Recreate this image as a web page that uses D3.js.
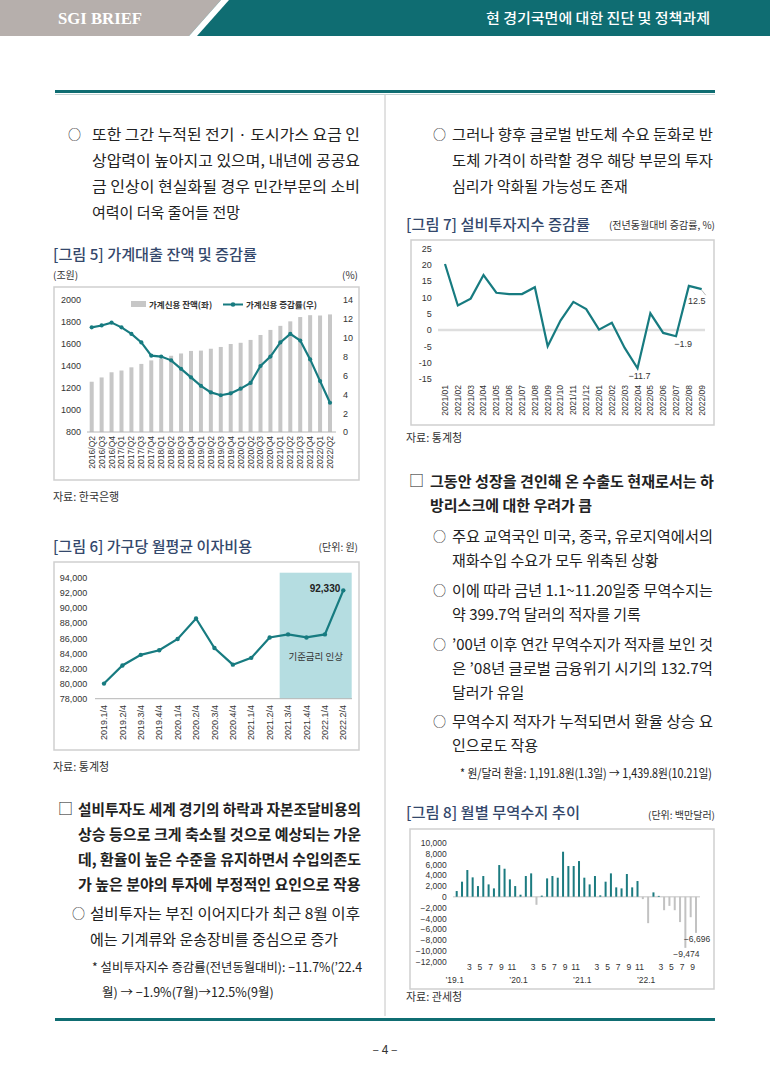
<!DOCTYPE html>
<html>
<head>
<meta charset="utf-8">
<script src="https://cdn.jsdelivr.net/npm/d3@7"></script>
<style>
  body { margin: 0; background: #fff; }
  text { font-family: "Noto Sans CJK KR", "Noto Sans", sans-serif; }
  .num { font-family: "Liberation Sans", "Noto Sans", sans-serif; }
</style>
</head>
<body>
<svg id="page"></svg>
<script>
// [그림 5] 가계신용
const creditQuarters = ["2016/Q2","2016/Q3","2016/Q4","2017/Q1","2017/Q2","2017/Q3","2017/Q4",
  "2018/Q1","2018/Q2","2018/Q3","2018/Q4","2019/Q1","2019/Q2","2019/Q3","2019/Q4",
  "2020/Q1","2020/Q2","2020/Q3","2020/Q4","2021/Q1","2021/Q2","2021/Q3","2021/Q4",
  "2022/Q1","2022/Q2"];
const creditBalance = [1257, 1296, 1343, 1359, 1388, 1419, 1451, 1468, 1493, 1514, 1537, 1540,
  1557, 1573, 1600, 1611, 1637, 1682, 1728, 1765, 1806, 1845, 1862, 1859, 1869];
const creditGrowth = [11.1, 11.3, 11.6, 11.1, 10.4, 9.5, 8.1, 8.0, 7.6, 6.7, 5.8, 4.9, 4.2, 3.9,
  4.1, 4.6, 5.2, 7.0, 8.0, 9.5, 10.4, 9.7, 7.7, 5.4, 3.1];
const creditLeftTicks = [800, 1000, 1200, 1400, 1600, 1800, 2000];
const creditRightTicks = [0, 2, 4, 6, 8, 10, 12, 14];

// [그림 6] 가구당 월평균 이자비용
const interestQuarters = ["2019.1/4","2019.2/4","2019.3/4","2019.4/4","2020.1/4","2020.2/4",
  "2020.3/4","2020.4/4","2021.1/4","2021.2/4","2021.3/4","2021.4/4","2022.1/4","2022.2/4"];
const interestCost = [80000, 82400, 83800, 84400, 85900, 88600, 84700, 82500, 83400, 86100,
  86500, 86100, 86500, 92330];
const interestTicks = [78000, 80000, 82000, 84000, 86000, 88000, 90000, 92000, 94000];
const rateHikeQuarters = ["2021.3/4", "2022.2/4"];

// [그림 7] 설비투자지수 증감률
const investMonths = ["2021/01","2021/02","2021/03","2021/04","2021/05","2021/06","2021/07",
  "2021/08","2021/09","2021/10","2021/11","2021/12","2022/01","2022/02","2022/03","2022/04",
  "2022/05","2022/06","2022/07","2022/08","2022/09"];
const investGrowth = [20.2, 7.5, 9.6, 16.8, 11.4, 11.0, 11.0, 13.1, -5.0, 2.9, 8.6, 6.4, 0.1,
  2.2, -5.5, -11.7, 5.1, -0.9, -1.9, 13.5, 12.5];
const investTicks = [-15, -10, -5, 0, 5, 10, 15, 20, 25];
const investNotes = [["2022/04", "−11.7"], ["2022/07", "−1.9"], ["2022/09", "12.5"]];

// [그림 8] 월별 무역수지
const tradeMonths = [
  "2019.1","2019.2","2019.3","2019.4","2019.5","2019.6","2019.7","2019.8","2019.9","2019.10","2019.11","2019.12",
  "2020.1","2020.2","2020.3","2020.4","2020.5","2020.6","2020.7","2020.8","2020.9","2020.10","2020.11","2020.12",
  "2021.1","2021.2","2021.3","2021.4","2021.5","2021.6","2021.7","2021.8","2021.9","2021.10","2021.11","2021.12",
  "2022.1","2022.2","2022.3","2022.4","2022.5","2022.6","2022.7","2022.8","2022.9","2022.10"];
const tradeBalance = [1050, 2780, 4940, 3580, 1970, 3830, 2280, 1540, 5860, 5180, 3210, 1970,
  370, 3830, 4320, -1500, 200, 3390, 3830, 3520, 8330, 5680, 5680, 6600,
  3520, 2280, 3830, 250, 2780, 4320, 1730, 1540, 4200, 1730, 2900, -450,
  -4900, 800, 150, -2500, -1700, -2500, -4700, -9474, -3800, -6696];
const tradeTicks = [-12000, -10000, -8000, -6000, -4000, -2000, 0, 2000, 4000, 6000, 8000, 10000];
const tradeNotes = [["2022.8", "−9,474"], ["2022.10", "−6,696"]];

const TEAL = "#0f6d72", LINE = "#177b80", TITLE = "#34486c", INK = "#222";

const svg = d3.select("#page").attr("width", 770).attr("height", 1089);

function txt(x, y, s, o = {}) {
  const t = svg.append("text")
    .attr("x", x).attr("y", y).text(s)
    .attr("font-size", o.size || 15)
    .attr("font-weight", o.weight || 400)
    .attr("fill", o.fill || INK)
    .attr("text-anchor", o.anchor || "start");
  if (o.cls) t.attr("class", o.cls);
  if (o.len) t.attr("textLength", o.len).attr("lengthAdjust", "spacingAndGlyphs");
  return t;
}

function para(bullet, bx, x, right, y, lh, lines, size, weight) {
  if (bullet) txt(bx, y - 1, bullet, { size: bullet === "○" ? 13 : 15 });
  lines.forEach((s, i) => {
    txt(x, y + i * lh, s, {
      size: size, weight: weight,
      len: i < lines.length - 1 ? right - x : null
    });
  });
}

function box(x, y, w, h) {
  svg.append("rect").attr("x", x).attr("y", y).attr("width", w).attr("height", h)
    .attr("fill", "none").attr("stroke", "#cfcfcf").attr("stroke-width", 1.5);
}

function yAxis(scale, ticks, x, side, fmt) {
  const ax = (side === "left" ? d3.axisLeft(scale) : d3.axisRight(scale))
    .tickValues(ticks).tickSize(0).tickPadding(0).tickFormat(fmt || (d => d));
  const g = svg.append("g").attr("transform", `translate(${x},0)`).call(ax);
  g.select(".domain").remove();
  g.selectAll("text").attr("class", "num").attr("font-size", 9).attr("fill", "#333");
  return g;
}

function rotatedLabels(scale, cats, top, size) {
  svg.append("g").selectAll("text").data(cats).join("text")
    .attr("class", "num")
    .attr("transform", d => `translate(${scale(d)},${top}) rotate(-90)`)
    .attr("text-anchor", "end").attr("dy", "0.35em")
    .attr("font-size", size).attr("fill", "#333")
    .text(d => d);
}

// ---------- header ----------
svg.append("rect").attr("width", 770).attr("height", 36).attr("fill", TEAL);
svg.append("polygon").attr("points", "0,0 221,0 189,36 0,36").attr("fill", "#b6afac");
svg.append("polygon").attr("points", "221,0 229,0 197,36 189,36").attr("fill", "#fff");
txt(58, 24, "SGI BRIEF", { size: 17, weight: 700, fill: "#fff", len: 84 })
  .style("font-family", "'Liberation Serif', serif");
txt(710, 23, "현 경기국면에 대한 진단 및 정책과제", { size: 13.5, weight: 500, fill: "#fff", anchor: "end", len: 224 });

svg.append("rect").attr("x", 55).attr("y", 90).attr("width", 660).attr("height", 3).attr("fill", TEAL);
svg.append("line").attr("x1", 55).attr("x2", 715).attr("y1", 94.5).attr("y2", 94.5)
  .attr("stroke", "#c5d3d3").attr("stroke-width", 1);
svg.append("line").attr("x1", 385).attr("x2", 385).attr("y1", 95).attr("y2", 1016)
  .attr("stroke", "#c4c4c4").attr("stroke-width", 1);
svg.append("rect").attr("x", 55).attr("y", 1018).attr("width", 660).attr("height", 3).attr("fill", TEAL);
txt(385, 1054, "– 4 –", { size: 12, anchor: "middle", fill: "#333" });

// ---------- body text ----------
para("○", 68, 92, 360, 140, 26, [
  "또한 그간 누적된 전기 · 도시가스 요금 인",
  "상압력이 높아지고 있으며, 내년에 공공요",
  "금 인상이 현실화될 경우 민간부문의 소비",
  "여력이 더욱 줄어들 전망"], 15, 400);

para("□", 58, 78, 361, 815, 25, [
  "설비투자도 세계 경기의 하락과 자본조달비용의",
  "상승 등으로 크게 축소될 것으로 예상되는 가운",
  "데, 환율이 높은 수준을 유지하면서 수입의존도",
  "가 높은 분야의 투자에 부정적인 요인으로 작용"], 15, 700);

para("○", 72, 90, 360, 919, 26, [
  "설비투자는 부진 이어지다가 최근 8월 이후",
  "에는 기계류와 운송장비를 중심으로 증가"], 15, 400);

txt(92, 972, "* 설비투자지수 증감률(전년동월대비): −11.7%(’22.4", { size: 12.5, len: 270 });
txt(102, 997, "월) → −1.9%(7월)→12.5%(9월)", { size: 12.5 });

para("○", 433, 452, 713, 140, 26, [
  "그러나 향후 글로벌 반도체 수요 둔화로 반",
  "도체 가격이 하락할 경우 해당 부문의 투자",
  "심리가 악화될 가능성도 존재"], 15, 400);

para("□", 409, 430, 714, 487, 24, [
  "그동안 성장을 견인해 온 수출도 현재로서는 하",
  "방리스크에 대한 우려가 큼"], 15, 700);

para("○", 433, 452, 713, 542, 24, [
  "주요 교역국인 미국, 중국, 유로지역에서의",
  "재화수입 수요가 모두 위축된 상황"], 15, 400);

para("○", 433, 452, 713, 596, 24, [
  "이에 따라 금년 1.1~11.20일중 무역수지는",
  "약 399.7억 달러의 적자를 기록"], 15, 400);

para("○", 433, 452, 713, 650, 24, [
  "’00년 이후 연간 무역수지가 적자를 보인 것",
  "은 ’08년 글로벌 금융위기 시기의 132.7억",
  "달러가 유일"], 15, 400);

para("○", 433, 452, 713, 727, 24, [
  "무역수지 적자가 누적되면서 환율 상승 요",
  "인으로도 작용"], 15, 400);

txt(460, 778, "* 원/달러 환율: 1,191.8원(1.3일) → 1,439.8원(10.21일)", { size: 12.5, len: 252 });

// ---------- [그림 5] ----------
function drawCredit() {
  txt(53, 260, "[그림 5] 가계대출 잔액 및 증감률", { size: 15, weight: 500, fill: TITLE, len: 204 });
  txt(53, 279, "(조원)", { size: 10, fill: "#333" });
  txt(358, 279, "(%)", { size: 10, fill: "#333", anchor: "end" });
  box(54, 287, 305, 193);

  const x = d3.scalePoint().domain(creditQuarters).range([91.7, 330]);
  const yL = d3.scaleLinear().domain([800, 2000]).range([432, 300]);
  const yR = d3.scaleLinear().domain([0, 14]).range([432, 300]);

  yAxis(yL, creditLeftTicks, 81, "left");
  yAxis(yR, creditRightTicks, 343, "right");

  svg.append("g").selectAll("rect").data(creditBalance).join("rect")
    .attr("x", (d, i) => x(creditQuarters[i]) - 2)
    .attr("width", 4)
    .attr("y", d => yL(d))
    .attr("height", d => yL(800) - yL(d))
    .attr("fill", "#c7c7c7");

  svg.append("line").attr("x1", 87).attr("x2", 336).attr("y1", yL(800)).attr("y2", yL(800))
    .attr("stroke", "#b5b5b5").attr("stroke-width", 1);

  const line = d3.line().x((d, i) => x(creditQuarters[i])).y(d => yR(d));
  svg.append("path").datum(creditGrowth).attr("d", line)
    .attr("fill", "none").attr("stroke", LINE).attr("stroke-width", 2.2);
  svg.append("g").selectAll("circle").data(creditGrowth).join("circle")
    .attr("cx", (d, i) => x(creditQuarters[i])).attr("cy", d => yR(d)).attr("r", 2.1)
    .attr("fill", LINE);

  rotatedLabels(x, creditQuarters, 436, 8.5);

  // legend
  svg.append("rect").attr("x", 131).attr("y", 301).attr("width", 15).attr("height", 6).attr("fill", "#c7c7c7");
  txt(149, 308, "가계신용 잔액(좌)", { size: 8.5, weight: 700, fill: "#333" });
  svg.append("line").attr("x1", 223).attr("x2", 243).attr("y1", 304.5).attr("y2", 304.5)
    .attr("stroke", LINE).attr("stroke-width", 2);
  svg.append("circle").attr("cx", 233).attr("cy", 304.5).attr("r", 2.3).attr("fill", LINE);
  txt(246, 308, "가계신용 증감률(우)", { size: 8.5, weight: 700, fill: "#333" });

  txt(53, 501, "자료: 한국은행", { size: 11, fill: "#333" });
}

// ---------- [그림 6] ----------
function drawInterest() {
  txt(53, 552, "[그림 6] 가구당 월평균 이자비용", { size: 15, weight: 500, fill: TITLE, len: 199 });
  txt(358, 551, "(단위: 원)", { size: 10, fill: "#333", anchor: "end" });
  box(54, 562, 305, 188);

  const x = d3.scalePoint().domain(interestQuarters).range([104, 343.3]);
  const y = d3.scaleLinear().domain([78000, 94000]).range([698.7, 577.7]);

  const x0 = x(rateHikeQuarters[0]) - 8.4, x1 = x(rateHikeQuarters[1]) + 8.4;
  svg.append("rect").attr("x", x0).attr("y", 572.7).attr("width", x1 - x0)
    .attr("height", y(78000) - 572.7).attr("fill", "#b5dde1");
  txt((x0 + x1) / 2, 660, "기준금리 인상", { size: 9.5, anchor: "middle", fill: "#333" });

  yAxis(y, interestTicks, 87.3, "left", d3.format(","));

  svg.append("line").attr("x1", 95).attr("x2", 352).attr("y1", y(78000)).attr("y2", y(78000))
    .attr("stroke", "#b5b5b5").attr("stroke-width", 1);

  const line = d3.line().x((d, i) => x(interestQuarters[i])).y(d => y(d));
  svg.append("path").datum(interestCost).attr("d", line)
    .attr("fill", "none").attr("stroke", LINE).attr("stroke-width", 2.2);
  svg.append("g").selectAll("circle").data(interestCost).join("circle")
    .attr("cx", (d, i) => x(interestQuarters[i])).attr("cy", d => y(d)).attr("r", 2.2)
    .attr("fill", LINE);

  const last = interestCost.length - 1;
  txt(x(interestQuarters[last]) - 3, y(interestCost[last]) + 2, d3.format(",")(interestCost[last]),
    { size: 10, weight: 700, anchor: "end", fill: "#222", cls: "num" });

  rotatedLabels(x, interestQuarters, 705, 9);

  txt(53, 771, "자료: 통계청", { size: 11, fill: "#333" });
}

// ---------- [그림 7] ----------
function drawInvest() {
  txt(406, 230, "[그림 7] 설비투자지수 증감률", { size: 15, weight: 500, fill: TITLE, len: 184 });
  txt(715, 229, "(전년동월대비 증감률, %)", { size: 10, fill: "#333", anchor: "end" });
  box(411, 240, 303, 185);

  const x = d3.scalePoint().domain(investMonths).range([445, 701.7]);
  const y = d3.scaleLinear().domain([-15, 25]).range([379, 248.3]);

  yAxis(y, investTicks, 431.7, "left");

  svg.append("line").attr("x1", 438).attr("x2", 705).attr("y1", y(0)).attr("y2", y(0))
    .attr("stroke", "#dedede").attr("stroke-width", 2.5);

  const line = d3.line().x((d, i) => x(investMonths[i])).y(d => y(d));
  svg.append("path").datum(investGrowth).attr("d", line)
    .attr("fill", "none").attr("stroke", LINE).attr("stroke-width", 2.2);

  const val = m => investGrowth[investMonths.indexOf(m)];
  txt(x(investNotes[0][0]) + 2, y(val(investNotes[0][0])) + 11, investNotes[0][1],
    { size: 9, anchor: "middle", fill: "#333", cls: "num" });
  txt(x(investNotes[1][0]) + 7, y(val(investNotes[1][0])) + 11, investNotes[1][1],
    { size: 9, anchor: "middle", fill: "#333", cls: "num" });
  const px = x(investNotes[2][0]), py = y(val(investNotes[2][0]));
  svg.append("line").attr("x1", px).attr("y1", py + 1).attr("x2", px + 4).attr("y2", py + 6)
    .attr("stroke", "#aaa").attr("stroke-width", 0.8);
  txt(px - 5, py + 15, investNotes[2][1], { size: 9, anchor: "middle", fill: "#333", cls: "num" });

  rotatedLabels(x, investMonths, 385, 8.5);

  txt(406, 442, "자료: 통계청", { size: 11, fill: "#333" });
}

// ---------- [그림 8] ----------
function drawTrade() {
  txt(406, 818, "[그림 8] 월별 무역수지 추이", { size: 15, weight: 500, fill: TITLE, len: 174 });
  txt(715, 819, "(단위: 백만달러)", { size: 10, fill: "#333", anchor: "end" });
  box(410, 829, 304, 160);

  const x = d3.scalePoint().domain(tradeMonths).range([456.7, 696]);
  const y = d3.scaleLinear().domain([-12000, 10000]).range([961.5, 842.7]);

  const ax = yAxis(y, tradeTicks, 446.7, "left", d3.format(","));
  ax.selectAll("text").attr("font-size", 8.5);

  svg.append("line").attr("x1", 453).attr("x2", 700).attr("y1", y(0)).attr("y2", y(0))
    .attr("stroke", "#d8d8d8").attr("stroke-width", 1.5);

  svg.append("g").selectAll("rect").data(tradeBalance).join("rect")
    .attr("x", (d, i) => x(tradeMonths[i]) - 1)
    .attr("width", 2)
    .attr("y", d => y(Math.max(0, d)))
    .attr("height", d => Math.abs(y(d) - y(0)))
    .attr("fill", d => d >= 0 ? "#1c7b80" : "#c2c2c2");

  tradeNotes.forEach(([m, s]) => {
    const v = tradeBalance[tradeMonths.indexOf(m)];
    txt(x(m) + 1, y(v) + 9, s, { size: 8.5, anchor: "middle", fill: "#333", cls: "num" });
  });

  tradeMonths.forEach(m => {
    const [yr, mo] = m.split(".");
    if (mo === "1") {
      txt(x(m) - 2, 983, "’" + yr.slice(2) + ".1", { size: 8.5, anchor: "middle", fill: "#333", cls: "num" });
    } else if (+mo % 2 === 1) {
      txt(x(m) + 2, 970, mo, { size: 8.5, anchor: "middle", fill: "#333", cls: "num" });
    }
  });

  txt(406, 1001, "자료: 관세청", { size: 11, fill: "#333" });
}

drawCredit();
drawInterest();
drawInvest();
drawTrade();
</script>
</body>
</html>
